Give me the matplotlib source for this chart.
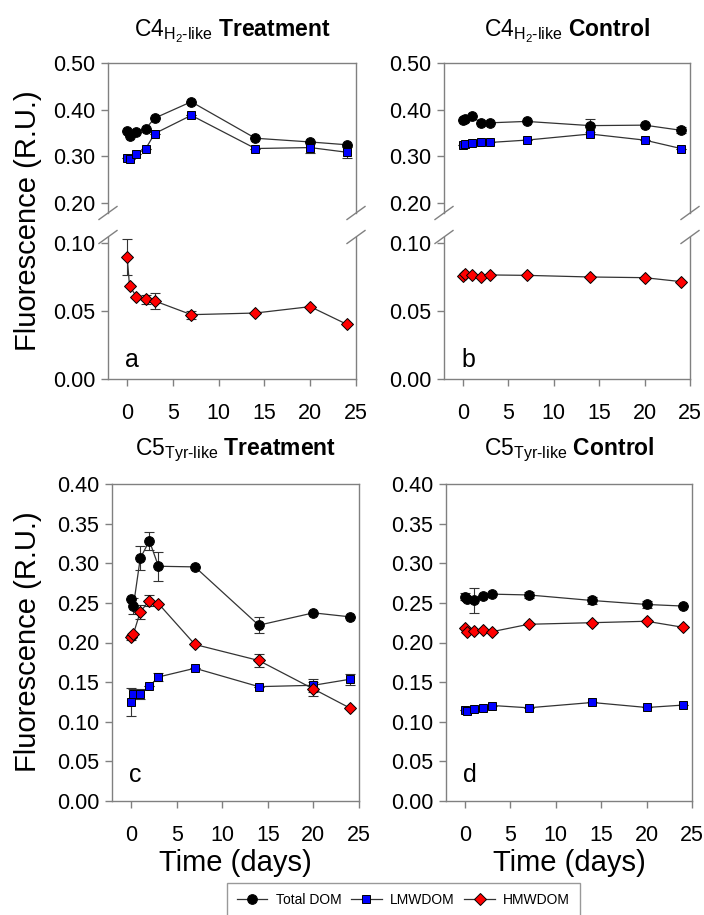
import matplotlib
matplotlib.use("Agg")
import matplotlib.pyplot as plt
from matplotlib.lines import Line2D

plt.rcParams['font.family'] = ['Liberation Sans', 'DejaVu Sans']
plt.rcParams['mathtext.fontset'] = 'custom'
plt.rcParams['mathtext.rm'] = 'Liberation Sans'
plt.rcParams['mathtext.it'] = 'Liberation Sans:italic'
plt.rcParams['mathtext.bf'] = 'Liberation Sans:bold'

# sampling days
days = [0, 0.25, 1, 2, 3, 7, 14, 20, 24]

# panel a: C4 H2-like treatment
a_total = [0.355, 0.344, 0.352, 0.359, 0.382, 0.417, 0.339, 0.331, 0.325]
a_total_err = [0, 0, 0, 0, 0, 0, 0, 0, 0]
a_lmw = [0.296, 0.295, 0.306, 0.316, 0.349, 0.388, 0.317, 0.319, 0.309]
a_lmw_err = [0, 0, 0, 0, 0, 0, 0, 0.012, 0.012]
a_hmw = [0.0895, 0.0686, 0.0605, 0.0586, 0.0574, 0.0473, 0.0485, 0.0532, 0.0402]
a_hmw_err = [0.0133, 0, 0, 0.0033, 0.0058, 0.003, 0, 0, 0]

# panel b: C4 H2-like control
b_total = [0.377, 0.381, 0.386, 0.371, 0.372, 0.375, 0.366, 0.367, 0.356]
b_total_err = [0, 0, 0, 0, 0, 0, 0.014, 0, 0.006]
b_lmw = [0.325, 0.326, 0.329, 0.331, 0.330, 0.335, 0.348, 0.335, 0.317]
b_lmw_err = [0, 0, 0, 0, 0, 0, 0, 0, 0]
b_hmw = [0.0755, 0.0772, 0.0767, 0.0750, 0.0765, 0.0762, 0.0750, 0.0745, 0.0716]
b_hmw_err = [0, 0, 0, 0, 0, 0, 0, 0, 0]

# panel c: C5 Tyr-like treatment
c_total = [0.2546, 0.2462, 0.3063, 0.3282, 0.2962, 0.2954, 0.2218, 0.2374, 0.2324]
c_total_err = [0, 0.0105, 0.015, 0.011, 0.018, 0, 0.010, 0, 0]
c_lmw = [0.1245, 0.1354, 0.135, 0.1447, 0.1565, 0.1675, 0.1443, 0.146, 0.1536]
c_lmw_err = [0.0175, 0.006, 0.006, 0, 0.005, 0, 0, 0.008, 0.007]
c_hmw = [0.2067, 0.2109, 0.2387, 0.2529, 0.249, 0.1975, 0.1773, 0.1414, 0.1173]
c_hmw_err = [0.003, 0, 0.009, 0.007, 0, 0, 0.008, 0.0085, 0]

# panel d: C5 Tyr-like control
d_total = [0.258, 0.255, 0.253, 0.259, 0.261, 0.260, 0.253, 0.248, 0.246]
d_total_err = [0.004, 0, 0.0156, 0, 0, 0.004, 0.004, 0.004, 0]
d_lmw = [0.1146, 0.1138, 0.1163, 0.1168, 0.1205, 0.1176, 0.1243, 0.118, 0.121]
d_lmw_err = [0, 0, 0, 0, 0, 0, 0, 0, 0]
d_hmw = [0.218, 0.2137, 0.2145, 0.2154, 0.2137, 0.223, 0.225, 0.2268, 0.2192]
d_hmw_err = [0, 0, 0, 0, 0, 0, 0, 0, 0]

labels = ["Total DOM", "LMWDOM", "HMWDOM"]

W, H = 704, 915
GRAY = '#808080'
styles = [dict(marker='o', mfc='black', ms=7),
          dict(marker='s', mfc='#0000FF', ms=5.8),
          dict(marker='D', mfc='#FF0000', ms=6.3)]

fig = plt.figure(figsize=(W / 100, H / 100), dpi=100)


def px_axes(left, top, right, bottom):
    return fig.add_axes([left / W, 1 - bottom / H, (right - left) / W, (bottom - top) / H])


def style_axes(ax):
    for s in ax.spines.values():
        s.set_color(GRAY)
        s.set_linewidth(1.0)
    ax.tick_params(direction='out', length=5, width=1, color=GRAY,
                   labelsize=15.5, pad=4)
    ax.tick_params(axis='x', pad=12)
    ax.set_xlim(-2.1, 25)
    ax.set_xticks([0, 5, 10, 15, 20, 25])


def draw(ax, series):
    lines = []
    for (y, err), st in zip(series, styles):
        ax.errorbar(days, y, yerr=err, fmt='none', ecolor='#333333',
                    elinewidth=0.8, capsize=3.5, capthick=0.8, zorder=2)
        ln, = ax.plot(days, y, color='#333333', lw=0.9, mec='black', mew=0.7,
                      zorder=3, **st)
        lines.append(ln)
    return lines


def broken_panel(left, right, series, title, letter):
    top, up_bot, lo_top, bot = 63, 213, 237, 379
    ax_up = px_axes(left, top, right, up_bot)
    ax_lo = px_axes(left, lo_top, right, bot)
    for ax in (ax_up, ax_lo):
        style_axes(ax)
        draw(ax, series)
    ax_up.set_ylim(0.179, 0.50)
    ax_up.set_yticks([0.20, 0.30, 0.40, 0.50])
    ax_up.set_yticklabels(["0.20", "0.30", "0.40", "0.50"])
    ax_up.spines['bottom'].set_visible(False)
    ax_up.tick_params(axis='x', bottom=False, labelbottom=False)
    ax_lo.set_ylim(0, 0.1044)
    ax_lo.set_yticks([0.00, 0.05, 0.10])
    ax_lo.set_yticklabels(["0.00", "0.05", "0.10"])
    ax_lo.spines['top'].set_visible(False)
    # break marks
    for x in (left, right):
        for yc in (up_bot, lo_top):
            fig.add_artist(Line2D([(x - 9) / W, (x + 9) / W],
                                  [1 - (yc + 6.5) / H, 1 - (yc - 6.5) / H],
                                  color=GRAY, lw=1.0))
    ax_up.set_title(title, fontsize=16.5, pad=19)
    fig.text((left + 17) / W, 1 - 367 / H, letter, fontsize=18, va='baseline')
    return ax_up


def plain_panel(left, right, series, title, letter):
    ax = px_axes(left, 484, right, 801)
    style_axes(ax)
    lines = draw(ax, series)
    ax.set_ylim(0, 0.40)
    yt = [0.00, 0.05, 0.10, 0.15, 0.20, 0.25, 0.30, 0.35, 0.40]
    ax.set_yticks(yt)
    ax.set_yticklabels(["%.2f" % v for v in yt])
    ax.set_title(title, fontsize=16.5, pad=21)
    fig.text((left + 17) / W, 1 - 782 / H, letter, fontsize=18, va='baseline')
    fig.text((left + right) / 2 / W, 1 - 871 / H, "Time (days)", fontsize=21,
             ha='center', va='baseline')
    return lines


t4 = r"C4$_{\mathrm{H_2\text{-}like}}$ "
t5 = r"C5$_{\mathrm{Tyr\text{-}like}}$ "

broken_panel(108, 356, [(a_total, a_total_err), (a_lmw, a_lmw_err), (a_hmw, a_hmw_err)],
             t4 + r"$\mathbf{Treatment}$", "a")
broken_panel(444, 690, [(b_total, b_total_err), (b_lmw, b_lmw_err), (b_hmw, b_hmw_err)],
             t4 + r"$\mathbf{Control}$", "b")
lines = plain_panel(112, 359, [(c_total, c_total_err), (c_lmw, c_lmw_err), (c_hmw, c_hmw_err)],
                    t5 + r"$\mathbf{Treatment}$", "c")
plain_panel(446, 692, [(d_total, d_total_err), (d_lmw, d_lmw_err), (d_hmw, d_hmw_err)],
            t5 + r"$\mathbf{Control}$", "d")

fig.text(28 / W, 1 - 221 / H, "Fluorescence (R.U.)", fontsize=21, rotation=90,
         ha='center', va='center')
fig.text(28 / W, 1 - 642 / H, "Fluorescence (R.U.)", fontsize=21, rotation=90,
         ha='center', va='center')

leg = fig.legend(lines, labels, loc='upper center', ncol=3, fontsize=10,
                 bbox_to_anchor=(403.5 / W, 1 - 883 / H), frameon=True,
                 fancybox=False, edgecolor=GRAY, handlelength=2.2,
                 columnspacing=0.7, handletextpad=0.6, borderpad=0.7,
                 borderaxespad=0)
leg.get_frame().set_linewidth(1.0)

fig.savefig("out.png", dpi=100)
